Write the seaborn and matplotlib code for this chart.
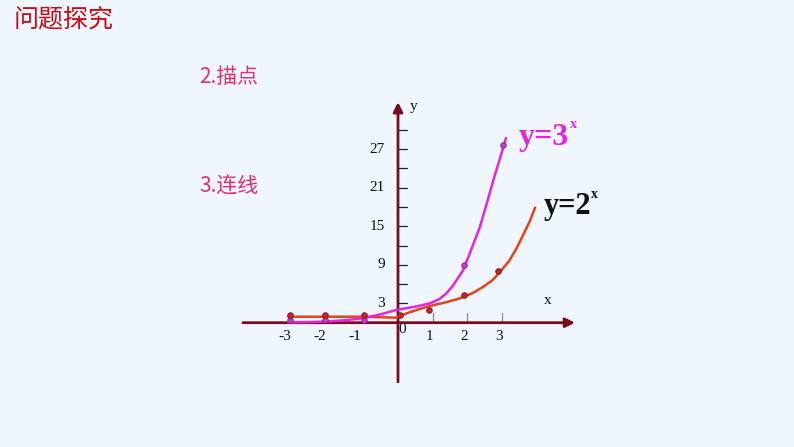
"""
指数函数 y=2^x 与 y=3^x 的描点、连线示意图 (课件页面复刻)
输出: out.png (794x447)
"""

import matplotlib
matplotlib.use("Agg")
import matplotlib.pyplot as plt
import seaborn as sns

# ── 数据 ───────────────────────────────────────────────────────────────
# 描出的点
pts2_x = [-3.1, -2.1, -0.98, 0.06, 0.9, 1.9, 2.88]
pts2_y = [1.2, 1.2, 1.2, 1.2, 2.0, 4.3, 8.0]
pts3_x = [-3.1, -2.1, -0.98, 1.91, 3.03]
pts3_y = [0.4, 0.4, 0.4, 9.0, 27.6]

# 手绘连线 (沿曲线读取的点)
curve3_x = [-3.16, -2.5, -2.0, -1.5, -1.0, -0.5, -0.04, 0.5, 0.92, 1.2, 1.4,
            1.6, 1.88, 2.07, 2.36, 2.56, 2.75, 2.94, 3.11]
curve3_y = [0.06, 0.1, 0.2, 0.4, 0.7, 1.3, 2.0, 2.5, 3.0, 3.7, 4.6,
            5.9, 8.2, 10.8, 14.9, 18.6, 22.2, 25.6, 28.7]
curve2_x = [-3.16, -2.0, -1.0, -0.5, -0.04, 0.25, 0.6, 0.92, 1.4, 1.79,
            2.15, 2.46, 2.72, 2.94, 3.2, 3.42, 3.61, 3.8, 3.95]
curve2_y = [0.93, 0.93, 0.93, 0.85, 0.78, 1.46, 2.1, 2.6, 3.2, 3.8,
            4.6, 5.6, 6.6, 7.9, 9.6, 11.6, 13.7, 15.8, 17.9]

# 坐标轴刻度
xtick_vals = [-3, -2, -1, 1, 2, 3]
ytick_marks = [3, 6, 9, 12, 15, 18, 21, 24, 27, 30]
ytick_labels = [3, 9, 15, 21, 27]

# ── 样式 ────────────────────────────────────────────────────────────────────
sns.set_theme(style="white")
plt.rcParams["font.family"] = ["Noto Sans CJK SC", "DejaVu Sans"]

BG       = "#EFF6FE"
AXIS_CLR = "#7A0C1E"
MAGENTA  = "#E524E0"
RED_LINE = "#E8401A"
PINK_TXT = "#E0306E"
TITLE    = "#CC0A14"
SERIF    = "Liberation Serif"

W, H = 794, 447
X0, PX_X = 398, 34.7      # 原点像素位置 / 每单位像素
Y0, PX_Y = 322.7, 6.43

fig = plt.figure(figsize=(W / 100, H / 100), dpi=100, facecolor=BG)
ax = fig.add_axes([0, 0, 1, 1])
ax.set_facecolor(BG)
ax.set_xlim(-X0 / PX_X, (W - X0) / PX_X)
ax.set_ylim(-(H - Y0) / PX_Y, Y0 / PX_Y)
ax.axis("off")

# ── 坐标轴 ──────────────────────────────────────────────────────────────────
arrow = dict(arrowstyle="-|>", color=AXIS_CLR, lw=2.0, mutation_scale=14,
             shrinkA=0, shrinkB=0)
ax.annotate("", xy=(5.1, 0), xytext=(-4.47, 0), arrowprops=arrow)
ax.annotate("", xy=(0, 34.3), xytext=(0, -9.2), arrowprops=arrow)

for t in ytick_marks:
    ax.plot([0, 0.27], [t, t], color="#222222", lw=0.9)
for t in [1, 2, 3]:
    ax.plot([t, t], [0, 1.5], color="#888888", lw=0.9)

for t in xtick_vals:
    off = -0.25 if t < 0 else -0.1
    ax.text(t + off, -2.2, str(t), ha="center", va="center",
            family=SERIF, fontsize=11, color="#111111")
ax.text(0.12, -1.1, "0", ha="center", va="center",
        family=SERIF, fontsize=11, color="#111111")
for t in ytick_labels:
    ax.text(-0.38, t, str(t), ha="right", va="center",
            family=SERIF, fontsize=11, color="#111111")
ax.text(0.45, 33.6, "y", ha="center", va="center",
        family=SERIF, fontsize=11, color="#111111")
ax.text(4.3, 3.4, "x", ha="center", va="center",
        family=SERIF, fontsize=11, color="#111111")

# ── 连线 + 描点 ─────────────────────────────────────────────────────────────
sns.lineplot(x=curve2_x, y=curve2_y, sort=False, color=RED_LINE, lw=1.8,
             ax=ax, zorder=3)
sns.lineplot(x=curve3_x, y=curve3_y, sort=False, color=MAGENTA, lw=1.8,
             ax=ax, zorder=3)
sns.scatterplot(x=pts3_x, y=pts3_y, color="#C23CC8", edgecolor="#8A1E8E",
                s=16, linewidth=0.6, ax=ax, zorder=4)
sns.scatterplot(x=pts2_x, y=pts2_y, color="#C8242A", edgecolor="#7A1010",
                s=16, linewidth=0.6, ax=ax, zorder=5)

# ── 函数标注 ────────────────────────────────────────────────────────────────
fig.text(519 / W, 1 - 137 / H, "y=3", ha="left", va="center",
         family=SERIF, fontweight="bold", fontsize=23, color=MAGENTA)
fig.text(570 / W, 1 - 124 / H, "x", ha="left", va="center",
         family=SERIF, fontweight="bold", fontsize=10, color=MAGENTA)
fig.text(544 / W, 1 - 206 / H, "y=2", ha="left", va="center",
         family=SERIF, fontweight="bold", fontsize=22, color="#111111")
fig.text(591 / W, 1 - 194 / H, "x", ha="left", va="center",
         family=SERIF, fontweight="bold", fontsize=10, color="#111111")

# ── 页面文字 ────────────────────────────────────────────────────────────────
fig.text(14 / W, 1 - 20 / H, "问题探究", ha="left", va="center",
         fontsize=18, color=TITLE)
fig.text(199 / W, 1 - 77 / H, "2.描点", ha="left", va="center",
         fontsize=15, color=PINK_TXT)
fig.text(199 / W, 1 - 187 / H, "3.连线", ha="left", va="center",
         fontsize=15, color=PINK_TXT)

fig.savefig("out.png", dpi=100, facecolor=BG)
plt.close(fig)
